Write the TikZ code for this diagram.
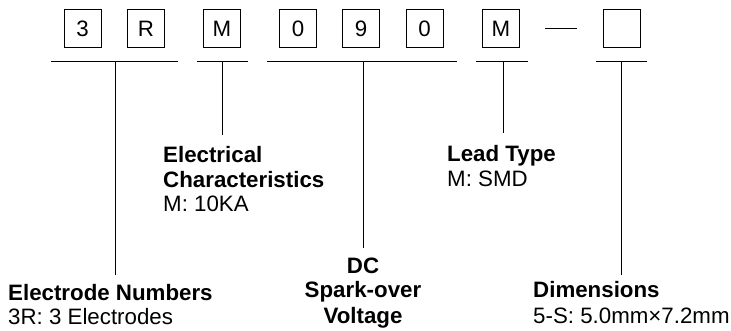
\documentclass[tikz,border=0pt]{standalone}
\usepackage{fontspec}
\setmainfont{Liberation Sans}
\begin{document}
\begin{tikzpicture}[x=1pt,y=-1pt,
  lw/.style={line width=1pt,black},
  digit/.style={draw,line width=1pt,minimum width=37pt,minimum height=38pt,inner sep=0pt,font=\fontsize{22.3}{24}\selectfont},
  head/.style={inner sep=0pt,font=\fontsize{22.3}{24}\selectfont\bfseries},
  sub/.style={inner sep=0pt,font=\fontsize{22.3}{24}\selectfont}]
\useasboundingbox (0,0) rectangle (731,331);
% boxes
\node[digit] (d1) at (82.5,29) {3};
\node[digit] (d2) at (146,29) {R};
\node[digit] (d3) at (222,29) {M};
\node[digit] (d4) at (298,29) {0};
\node[digit] (d5) at (361,29) {9};
\node[digit] (d6) at (424.5,29) {0};
\node[digit] (d7) at (501,29) {M};
\node[digit] (d8) at (621.5,29) {};
\draw[lw] (545,29) -- (577,29);
% bars
\draw[lw] (51,61.5) -- (178,61.5);
\draw[lw] (197,61.5) -- (248,61.5);
\draw[lw] (267,61.5) -- (457,61.5);
\draw[lw] (476,61.5) -- (528,61.5);
\draw[lw] (596,61.5) -- (647,61.5);
\coordinate (t1) at (115,61.5);
\coordinate (t2) at (222,61.5);
\coordinate (t3) at (363,61.5);
\coordinate (t4) at (503,61.5);
\coordinate (t5) at (621,61.5);
\coordinate (e1) at (115,275);
\coordinate (e2) at (222,135);
\coordinate (e3) at (363,248);
\coordinate (e4) at (503,133);
\coordinate (e5) at (621,275);
\draw[lw] (t1) -- (e1);
\draw[lw] (t2) -- (e2);
\draw[lw] (t3) -- (e3);
\draw[lw] (t4) -- (e4);
\draw[lw] (t5) -- (e5);
% labels
\node[head,anchor=base west] (en1) at (8,300) {Electrode Numbers};
\node[sub,anchor=base west] (en2) at (8,324) {3R: 3 Electrodes};
\node[head,anchor=base west] (ec1) at (163,162.5) {Electrical};
\node[head,anchor=base west] (ec2) at (163,187.5) {Characteristics};
\node[sub,anchor=base west] (ec3) at (163,212) {M: 10KA};
\node[head,anchor=base] (dc1) at (363,273) {DC};
\node[head,anchor=base] (dc2) at (363,298) {Spark-over};
\node[head,anchor=base] (dc3) at (363,323) {Voltage};
\node[head,anchor=base west] (lt1) at (447,162) {Lead Type};
\node[sub,anchor=base west] (lt2) at (447,187) {M: SMD};
\node[head,anchor=base west] (dm1) at (533,298) {Dimensions};
\node[sub,anchor=base west] (dm2) at (533,323) {5-S: 5.0mm×7.2mm};
\end{tikzpicture}
\end{document}
